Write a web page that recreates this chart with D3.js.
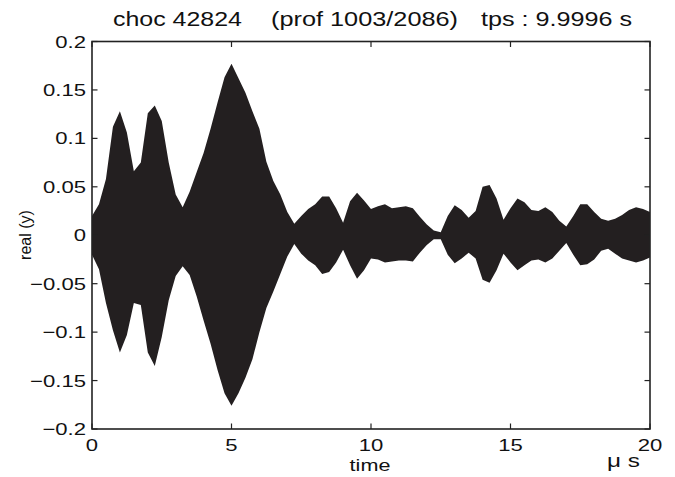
<!DOCTYPE html>
<html><head><meta charset="utf-8">
<script src="https://cdn.jsdelivr.net/npm/d3@7"></script>
<style>
body{margin:0;background:#fff;}
svg text{font-family:"Liberation Sans",Arial,Helvetica,sans-serif;fill:#111;}
</style></head>
<body><svg id="c" width="675" height="477"></svg>
<script>
// time samples (µs)
const times = d3.range(0, 20.001, 0.25);
// upper envelope of the signal
const upperEnv = [0.020,0.032,0.058,0.112,0.128,0.106,0.066,0.075,0.126,0.134,0.118,0.075,0.042,0.029,0.045,0.065,0.085,0.110,0.137,0.163,0.177,0.162,0.147,0.128,0.110,0.076,0.056,0.042,0.024,0.012,0.020,0.027,0.032,0.040,0.040,0.028,0.013,0.035,0.044,0.036,0.027,0.030,0.032,0.028,0.029,0.030,0.028,0.019,0.011,0.005,0.003,0.020,0.031,0.026,0.018,0.025,0.050,0.052,0.038,0.016,0.028,0.038,0.034,0.026,0.025,0.029,0.024,0.015,0.009,0.020,0.032,0.032,0.024,0.017,0.015,0.017,0.021,0.026,0.029,0.027,0.024];
// lower envelope of the signal
const lowerEnv = [-0.020,-0.035,-0.070,-0.098,-0.121,-0.103,-0.070,-0.072,-0.121,-0.135,-0.105,-0.067,-0.042,-0.032,-0.041,-0.063,-0.088,-0.112,-0.139,-0.163,-0.176,-0.163,-0.147,-0.128,-0.100,-0.075,-0.058,-0.040,-0.022,-0.009,-0.019,-0.026,-0.031,-0.040,-0.038,-0.028,-0.015,-0.031,-0.045,-0.036,-0.024,-0.025,-0.028,-0.027,-0.026,-0.026,-0.027,-0.018,-0.010,-0.004,-0.004,-0.020,-0.029,-0.024,-0.018,-0.024,-0.046,-0.049,-0.036,-0.019,-0.028,-0.036,-0.031,-0.026,-0.025,-0.028,-0.024,-0.016,-0.008,-0.020,-0.031,-0.030,-0.025,-0.016,-0.014,-0.019,-0.024,-0.026,-0.028,-0.026,-0.023];
const xTicks = [0,5,10,15,20];
const yTicks = [-0.2,-0.15,-0.1,-0.05,0,0.05,0.1,0.15,0.2];
const yTickLabels = ["\u22120.2","\u22120.15","\u22120.1","\u22120.05","0","0.05","0.1","0.15","0.2"];
const titleParts = ["choc 42824","(prof 1003/2086)","tps : 9.9996 s"];

const data = times.map((t,i)=>({t, hi: upperEnv[i], lo: lowerEnv[i]}));
const svg = d3.select("#c");
const L=92, R=650, T=41.5, B=429;
const x = d3.scaleLinear().domain([0,20]).range([L,R]);
const y = d3.scaleLinear().domain([-0.2,0.2]).range([B,T]);
const SX = 1.3;
function stext(px, py, str, size, anchor, sx){
  return svg.append("text")
    .attr("transform",`translate(${px},${py}) scale(${sx||SX},1)`)
    .attr("text-anchor",anchor||"start").attr("font-size",size).text(str);
}

svg.append("path").datum(data)
  .attr("fill","#231f20")
  .attr("d", d3.area().x(d=>x(d.t)).y0(d=>y(d.lo)).y1(d=>y(d.hi)));

const tl = 5.5;
const g = svg.append("g").attr("stroke","#222").attr("stroke-width",1.2);
xTicks.forEach(v=>{
  g.append("line").attr("x1",x(v)).attr("x2",x(v)).attr("y1",B).attr("y2",B-tl);
  g.append("line").attr("x1",x(v)).attr("x2",x(v)).attr("y1",T).attr("y2",T+tl);
});
yTicks.forEach(v=>{
  g.append("line").attr("x1",L).attr("x2",L+tl).attr("y1",y(v)).attr("y2",y(v));
  g.append("line").attr("x1",R).attr("x2",R-tl).attr("y1",y(v)).attr("y2",y(v));
});
svg.append("rect").attr("x",L).attr("y",T).attr("width",R-L).attr("height",B-T)
  .attr("fill","none").attr("stroke","#222").attr("stroke-width",1.6);

xTicks.forEach(v=>{ stext(x(v), 451, String(v), 17, "middle"); });
yTicks.forEach((v,i)=>{ stext(86, y(v)+6, yTickLabels[i], 17, "end"); });

const titleX = [[113,242],[271,458],[481,632]];
titleParts.forEach((s,i)=>{
  svg.append("text").attr("x",titleX[i][0]).attr("y",26).attr("font-size",19.5)
    .attr("textLength",titleX[i][1]-titleX[i][0]).attr("lengthAdjust","spacingAndGlyphs").text(s);
});
stext(370, 471, "time", 16, "middle", 1.35);
svg.append("text").attr("transform","translate(31,235) rotate(-90)").attr("text-anchor","middle")
  .attr("font-size",16).text("real (y)");
svg.append("text").attr("transform","translate(623.5,467) scale(1.35,1)").attr("text-anchor","middle")
  .attr("font-size",18).style("white-space","pre").text("\u03bc s");
</script></body></html>
